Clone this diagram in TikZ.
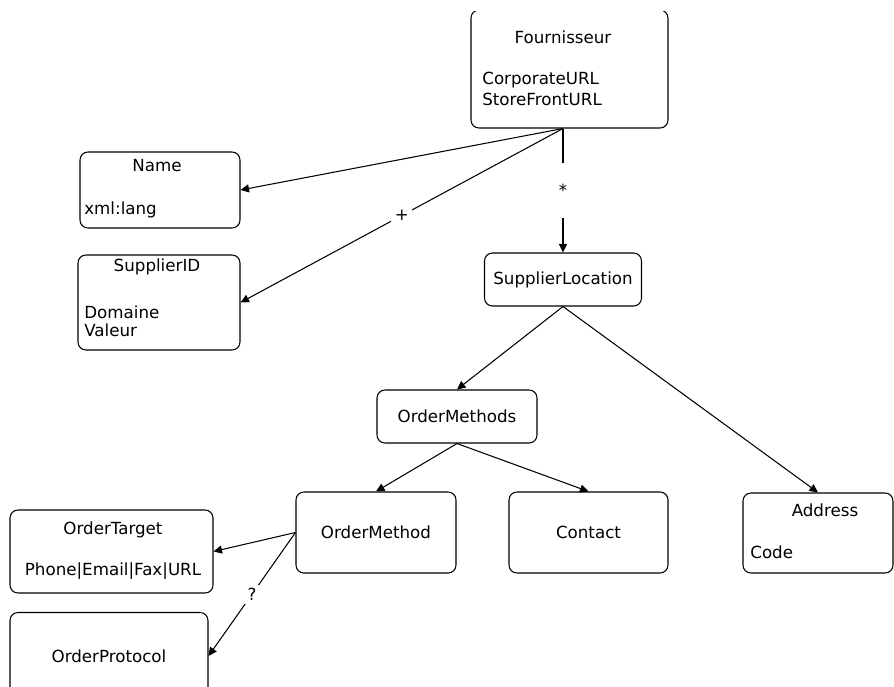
\documentclass[tikz,border=0pt]{standalone}
\usepackage{fontspec}
\setmainfont{DejaVu Sans}
\usetikzlibrary{arrows.meta}

\tikzset{
  cls/.style={draw, rounded corners=4.5pt, line width=0.6pt, inner sep=0pt,
    font=\fontsize{9.5}{11}\selectfont},
  txt/.style={inner sep=0pt, font=\fontsize{9.5}{11}\selectfont},
  assoc/.style={-{Triangle[length=1.7mm,width=1.6mm]}, line width=0.6pt},
  mult/.style={fill=white, inner sep=2pt, font=\fontsize{9.5}{11}\selectfont}
}

\begin{document}
\begin{tikzpicture}[x=0.02cm, y=-0.02cm]
    \useasboundingbox (0,0) rectangle (894,687);
    \clip (0,11) rectangle (894,687);

    % classes
    \node[cls, minimum width=3.94cm, minimum height=2.36cm] (four) at (569.5,69) {};
    \node[cls, minimum width=3.2cm,  minimum height=1.52cm] (name) at (160,190) {};
    \node[cls, minimum width=3.24cm, minimum height=1.9cm]  (supid) at (159,302.5) {};
    \node[cls, minimum width=3.14cm, minimum height=1.06cm] (sloc) at (563,279.5) {SupplierLocation};
    \node[cls, minimum width=3.2cm,  minimum height=1.06cm] (omethods) at (457,416.5) {OrderMethods};
    \node[cls, minimum width=3.2cm,  minimum height=1.62cm] (omethod) at (376,532.5) {OrderMethod};
    \node[cls, minimum width=3.18cm, minimum height=1.62cm] (contact) at (588.5,532.5) {Contact};
    \node[cls, minimum width=3.0cm,  minimum height=1.6cm]  (address) at (818,533) {};
    \node[cls, minimum width=4.06cm, minimum height=1.66cm] (otarget) at (111.5,551.5) {};
    \node[cls, minimum width=3.96cm, minimum height=1.74cm] (oproto) at (109,656) {OrderProtocol};

    % titles and attributes
    \node[txt] (fourT) at (563,37) {Fournisseur};
    \node[txt, anchor=west] (fourA) at (482,80) {CorporateURL};
    \node[txt, anchor=west] (fourB) at (482,99) {StoreFrontURL};
    \node[txt] (nameT) at (157,166) {Name};
    \node[txt, anchor=west] (nameA) at (84,210) {xml:lang};
    \node[txt] (supidT) at (157,267) {SupplierID};
    \node[txt, anchor=west] (supidA) at (84,312) {Domaine};
    \node[txt, anchor=west] (supidB) at (84,330) {Valeur};
    \node[txt] (addressT) at (825,510) {Address};
    \node[txt, anchor=west] (addressA) at (750,552) {Code};
    \node[txt] (otargetT) at (113,530) {OrderTarget};
    \node[txt] (otargetA) at (113,571) {Phone|Email|Fax|URL};

    % associations
    \draw[assoc] (four.south -| sloc.north) -- (name.east);
    \draw[assoc] (four.south -| sloc.north) -- node[mult] (plus) {+} (supid.east);
    \draw[assoc] (four.south -| sloc.north) -- node[mult, minimum height=1.1cm] (star) {*} (sloc.north);
    \draw[assoc] (sloc.south) -- (omethods.north);
    \draw[assoc] (sloc.south) -- (address.north);
    \draw[assoc] (omethods.south) -- (omethod.north);
    \draw[assoc] (omethods.south) -- (contact.north);
    \draw[assoc] (omethod.west) -- (otarget.east);
    \draw[assoc] (omethod.west) -- node[mult] (opt) {?} (oproto.east);
\end{tikzpicture}
\end{document}
